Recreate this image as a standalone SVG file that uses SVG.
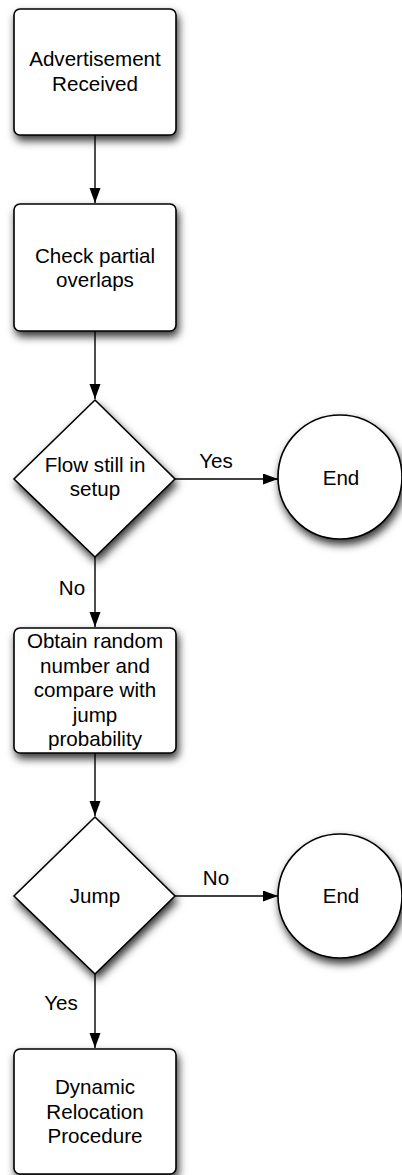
<svg xmlns="http://www.w3.org/2000/svg" width="402" height="1175" viewBox="0 0 402 1175">
  <defs>
    <filter id="shadow" x="-20%" y="-20%" width="150%" height="150%">
      <feDropShadow dx="2" dy="5" stdDeviation="4.5" flood-color="#000" flood-opacity="0.8"/>
    </filter>
    <marker id="arrow" markerUnits="userSpaceOnUse" markerWidth="16" markerHeight="12" refX="15" refY="5.5" orient="auto">
      <path d="M0,0 L15,5.5 L0,11 z" fill="#000"/>
    </marker>
    <style>
      .shape { fill: #fff; stroke: #000; stroke-width: 1.6; filter: url(#shadow); }
      .label { font-family: "Liberation Sans", Arial, sans-serif; font-size: 20.6px; fill: #000; text-anchor: middle; }
      .conn { stroke: #000; stroke-width: 1.4; fill: none; marker-end: url(#arrow); }
    </style>
  </defs>
  <rect width="402" height="1175" fill="#fff"/>

  <!-- connectors -->
  <g id="connectors">
    <line class="conn" x1="95" y1="135" x2="95" y2="203"/>
    <line class="conn" x1="95" y1="331" x2="95" y2="399"/>
    <line class="conn" x1="175" y1="479" x2="278" y2="479"/>
    <line class="conn" x1="95" y1="557" x2="95" y2="627"/>
    <line class="conn" x1="95" y1="753" x2="95" y2="816"/>
    <line class="conn" x1="175" y1="896" x2="278" y2="896"/>
    <line class="conn" x1="95" y1="974" x2="95" y2="1048"/>
    <text class="label" x="216" y="468">Yes</text>
    <text class="label" x="72" y="595">No</text>
    <text class="label" x="216" y="885">No</text>
    <text class="label" x="61" y="1010">Yes</text>
  </g>

  <g id="advertisement-received">
    <rect class="shape" x="14" y="9" width="162" height="126" rx="6"/>
    <text class="label" x="95" y="66">Advertisement</text>
    <text class="label" x="95" y="91">Received</text>
  </g>

  <g id="check-overlaps">
    <rect class="shape" x="14" y="204" width="162" height="127" rx="6"/>
    <text class="label" x="95" y="263">Check partial</text>
    <text class="label" x="95" y="287">overlaps</text>
  </g>

  <g id="flow-in-setup">
    <polygon class="shape" points="95,400 175,479 95,557 14,479"/>
    <text class="label" x="95" y="472">Flow still in</text>
    <text class="label" x="95" y="496">setup</text>
  </g>

  <g id="end-1">
    <circle class="shape" cx="340" cy="477" r="62"/>
    <text class="label" x="341" y="485">End</text>
  </g>

  <g id="obtain-random">
    <rect class="shape" x="14" y="628" width="162" height="125" rx="6"/>
    <text class="label" x="95" y="648">Obtain random</text>
    <text class="label" x="95" y="672.5">number and</text>
    <text class="label" x="95" y="697">compare with</text>
    <text class="label" x="95" y="721.5">jump</text>
    <text class="label" x="95" y="746">probability</text>
  </g>

  <g id="jump">
    <polygon class="shape" points="95,817 175,896 95,974 14,896"/>
    <text class="label" x="95" y="903">Jump</text>
  </g>

  <g id="end-2">
    <circle class="shape" cx="340" cy="896" r="62"/>
    <text class="label" x="341" y="903">End</text>
  </g>

  <g id="dynamic-relocation">
    <rect class="shape" x="14" y="1049" width="162" height="125" rx="6"/>
    <text class="label" x="95" y="1094">Dynamic</text>
    <text class="label" x="95" y="1119">Relocation</text>
    <text class="label" x="95" y="1143">Procedure</text>
  </g>
</svg>
